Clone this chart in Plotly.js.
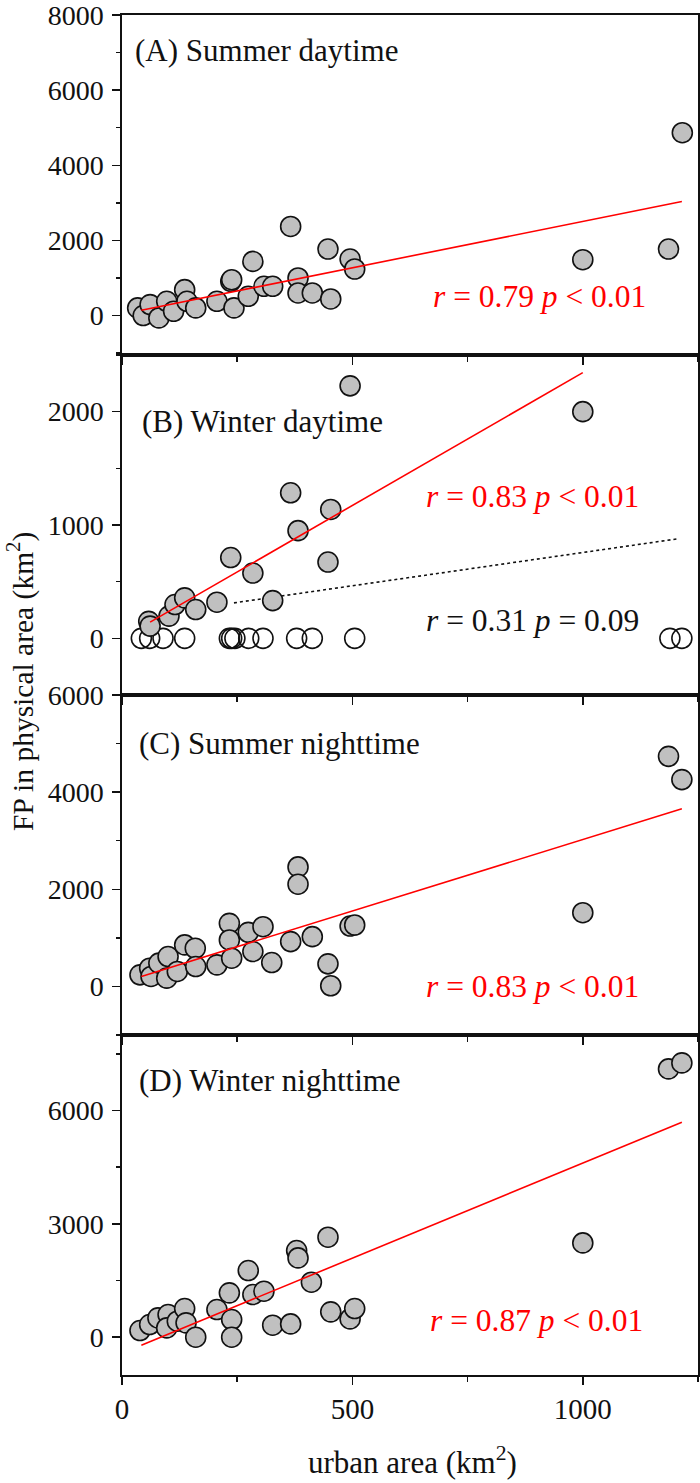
<!DOCTYPE html>
<html>
<head>
<meta charset="utf-8">
<script src="https://cdn.plot.ly/plotly-3.0.1.min.js"></script>
<style>html,body{margin:0;padding:0;background:#fff;}#chart{width:700px;height:1483px;}</style>
</head>
<body>
<div id="chart"></div>
<script>
// ---- Data ----
// (A) Summer daytime
const aX = [34, 46, 61, 80, 97, 112, 136, 141, 160, 206, 236, 238, 243, 274, 284, 308, 327, 366, 382, 382, 413, 447, 453, 495, 505, 1000, 1186, 1216];
const aY = [204, 0, 292, -62, 380, 115, 690, 380, 204, 380, 912, 955, 204, 513, 1442, 779, 779, 2372, 1000, 602, 602, 1770, 442, 1504, 1239, 1487, 1770, 4867];
const aFitX = [42, 1215];
const aFitY = [142, 3035];

// (B) Winter daytime - filled points
const bX = [58, 61, 102, 115, 136, 160, 206, 236, 284, 327, 366, 382, 447, 453, 495, 1000];
const bY = [150, 108, 196, 298, 357, 254, 319, 713, 576, 333, 1284, 950, 673, 1137, 2228, 2000];
// (B) Winter daytime - open points
const bOpenX = [42, 60, 89, 136, 233, 238, 245, 275, 306, 379, 413, 505, 1189, 1215];
const bOpenY = [0, 0, 0, 0, 0, 0, 0, 0, 0, 0, 0, 0, 0, 0];
const bFitX = [61, 1000];
const bFitY = [143, 2345];
const bDotX = [243, 1204];
const bDotY = [313, 877];

// (C) Summer nighttime
const cX = [39, 60, 63, 80, 100, 97, 120, 136, 159, 160, 206, 233, 233, 238, 274, 284, 306, 325, 366, 382, 382, 413, 447, 453, 495, 505, 1000, 1186, 1215];
const cY = [239, 376, 205, 479, 615, 171, 308, 855, 786, 410, 444, 1299, 957, 581, 1114, 718, 1230, 492, 923, 2461, 2105, 1025, 465, 14, 1244, 1265, 1518, 4738, 4259];
const cFitX = [42, 1215];
const cFitY = [205, 3658];

// (D) Winter nighttime
const dX = [39, 60, 78, 100, 97, 120, 136, 139, 160, 206, 233, 238, 238, 274, 284, 308, 327, 366, 379, 382, 411, 447, 453, 495, 505, 1000, 1186, 1215];
const dY = [176, 335, 512, 600, 247, 424, 759, 380, 0, 732, 1174, 468, 0, 1765, 1130, 1218, 318, 353, 2294, 2100, 1456, 2647, 671, 485, 759, 2497, 7103, 7262];
const dFitX = [42, 1215];
const dFitY = [-212, 5691];

const panelLabels = ["(A) Summer daytime", "(B) Winter daytime", "(C) Summer nighttime", "(D) Winter nighttime"];
const statA = "<i>r</i> = 0.79 <i>p</i> &lt; 0.01";
const statB = "<i>r</i> = 0.83 <i>p</i> &lt; 0.01";
const statB2 = "<i>r</i> = 0.31 <i>p</i> = 0.09";
const statC = "<i>r</i> = 0.83 <i>p</i> &lt; 0.01";
const statD = "<i>r</i> = 0.87 <i>p</i> &lt; 0.01";
const yTitle = "FP in physical area (km<sup>2</sup>)";
const xTitle = "urban area (km<sup>2</sup>)";

// ---- Styling ----
const FONT = "Liberation Serif, Times New Roman, serif";
const GREY = "#c0c0c0";
const mk = {size: 20, color: GREY, line: {color: "#111", width: 1.6}};
const mkOpen = {size: 20, color: "rgba(255,255,255,0)", line: {color: "#111", width: 1.6}};
const fitLine = {color: "#ff0000", width: 1.6};

function pts(x, y, xa, ya, marker) {
  return {x: x, y: y, xaxis: xa, yaxis: ya, type: "scatter", mode: "markers", marker: marker, hoverinfo: "skip", cliponaxis: false};
}
function line(x, y, xa, ya, l) {
  return {x: x, y: y, xaxis: xa, yaxis: ya, type: "scatter", mode: "lines", line: l, hoverinfo: "skip"};
}

const traces = [
  pts(aX, aY, "x", "y", mk), line(aFitX, aFitY, "x", "y", fitLine),
  pts(bOpenX, bOpenY, "x2", "y2", mkOpen),
  line(bDotX, bDotY, "x2", "y2", {color: "#111", width: 1.6, dash: "dot"}),
  pts(bX, bY, "x2", "y2", mk), line(bFitX, bFitY, "x2", "y2", fitLine),
  pts(cX, cY, "x3", "y3", mk), line(cFitX, cFitY, "x3", "y3", fitLine),
  pts(dX, dY, "x4", "y4", mk), line(dFitX, dFitY, "x4", "y4", fitLine)
];

function xax(anchor, showLabels) {
  return {
    anchor: anchor, range: [0, 1250], domain: [0, 1],
    showline: true, linecolor: "#111", linewidth: 1.6, mirror: true,
    ticks: "outside", ticklen: 8, tickwidth: 1.5, tickcolor: "#111",
    tickmode: "linear", tick0: 0, dtick: 500,
    minor: {dtick: 250, ticks: "outside", ticklen: 5, tickwidth: 1.5, tickcolor: "#111"},
    showticklabels: showLabels, showgrid: false, zeroline: false,
    ticklabeloverflow: "allow",
    tickfont: {family: FONT, size: 29, color: "#111"}
  };
}
function yax(anchor, dom, range, dtick, minorDtick) {
  return {
    anchor: anchor, domain: dom, range: range,
    showline: true, linecolor: "#111", linewidth: 1.6, mirror: true,
    ticks: "outside", ticklen: 8, tickwidth: 1.5, tickcolor: "#111",
    tickmode: "linear", tick0: 0, dtick: dtick,
    minor: {dtick: minorDtick, ticks: "outside", ticklen: 4, tickwidth: 1.5, tickcolor: "#111"},
    showgrid: false, zeroline: false, ticklabelstandoff: 3,
    ticklabeloverflow: "allow",
    tickfont: {family: FONT, size: 28, color: "#111"}
  };
}

function ann(text, x, y, xanchor, color, size) {
  return {text: text, x: x, y: y, xref: "paper", yref: "paper", xanchor: xanchor, yanchor: "middle",
          showarrow: false, font: {family: FONT, size: size, color: color}};
}

const layout = {
  width: 700, height: 1483,
  margin: {l: 122, r: 2, t: 15, b: 108},
  paper_bgcolor: "#fff", plot_bgcolor: "#fff",
  showlegend: false,
  xaxis: xax("y", false),
  xaxis2: xax("y2", false),
  xaxis3: xax("y3", false),
  xaxis4: xax("y4", true),
  yaxis: yax("x", [0.75, 1], [-1050, 8001], 2000, 1000),
  yaxis2: yax("x2", [0.5, 0.75], [-500, 2500], 1000, 500),
  yaxis3: yax("x3", [0.25, 0.5], [-1000, 6001], 2000, 1000),
  yaxis4: yax("x4", [0, 0.25], [-1000, 8000], 3000, 1500),
  annotations: [
    ann(panelLabels[0], 0.019, 0.974, "left", "#111", 31),
    ann(statA, 0.724, 0.793, "center", "#ff0000", 31.5),
    ann(panelLabels[1], 0.031, 0.701, "left", "#111", 31),
    ann(statB, 0.712, 0.6456, "center", "#ff0000", 31.5),
    ann(statB2, 0.712, 0.555, "center", "#111", 31.5),
    ann(panelLabels[2], 0.026, 0.4647, "left", "#111", 31),
    ann(statC, 0.712, 0.2853, "center", "#ff0000", 31.5),
    ann(panelLabels[3], 0.026, 0.2169, "left", "#111", 31),
    ann(statD, 0.719, 0.0404, "center", "#ff0000", 31.5),
    {text: yTitle, x: -0.176, y: 0.51, xref: "paper", yref: "paper",
     xanchor: "center", yanchor: "middle", textangle: -90, showarrow: false,
     font: {family: FONT, size: 29.5, color: "#111"}},
    {text: xTitle, x: 0.505, y: -0.0625, xref: "paper", yref: "paper",
     xanchor: "center", yanchor: "middle", showarrow: false,
     font: {family: FONT, size: 31, color: "#111"}}
  ]
};

Plotly.newPlot("chart", traces, layout, {staticPlot: true, displayModeBar: false});
</script>
</body>
</html>
